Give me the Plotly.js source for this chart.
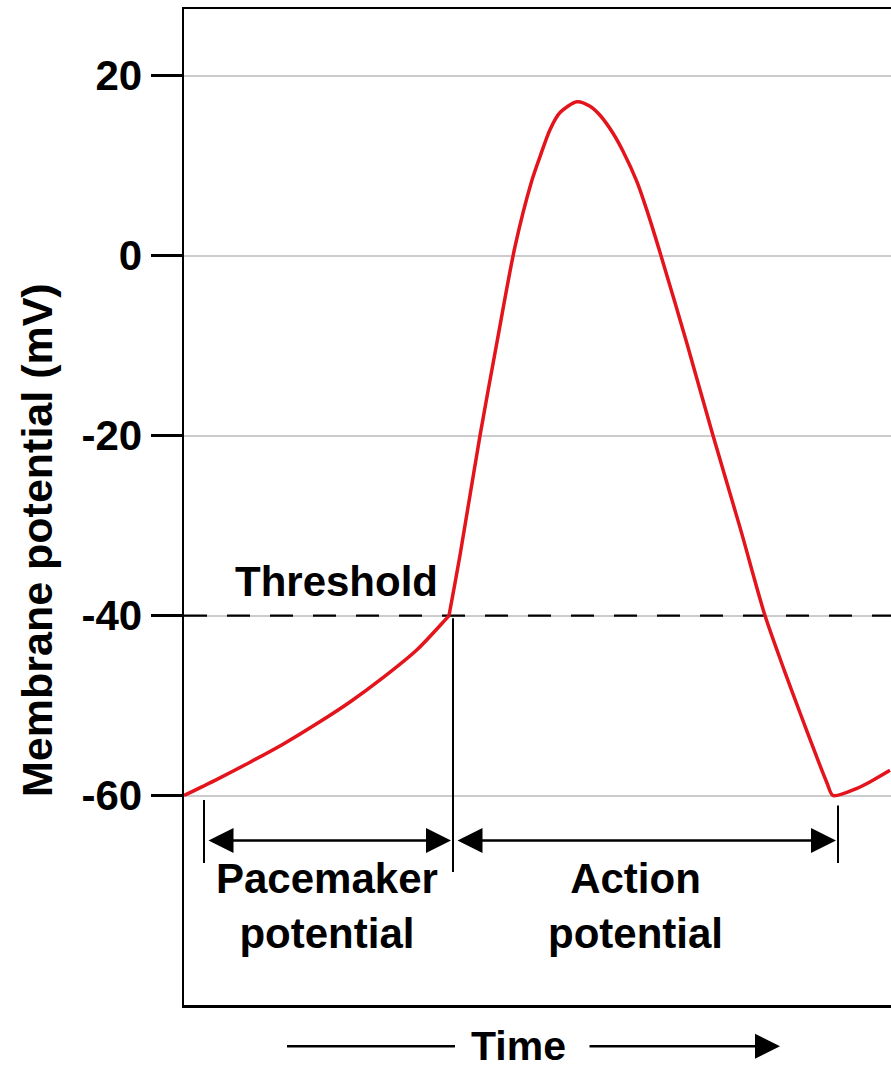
<!DOCTYPE html>
<html>
<head>
<meta charset="utf-8">
<script src="https://cdn.plot.ly/plotly-3.0.1.min.js"></script>
<style>html,body{margin:0;padding:0;background:#fff;}#chart{width:891px;height:1071px;}</style>
</head>
<body>
<div id="chart"></div>
<script>
// Time (arbitrary units, ms-like) and membrane potential (mV)
var timeValues = [0, 33, 66, 99, 133, 166, 199, 233, 261, 265,
  276, 296, 313, 331, 348, 356, 366, 376, 393, 406, 416, 429, 439, 453, 463, 477,
  503, 529, 556, 581, 600, 616, 633, 643, 649, 673, 689, 706];
var potentialValues = [-60, -58.2, -56.3, -54.3, -52.0, -49.6, -46.9, -43.8, -40.5, -40,
  -33.3, -20, -9.6, 1.0, 8.4, 11.0, 14.0, 15.9, 17.1, 16.6, 15.6, 13.6, 11.6, 8.2, 5.0, 0,
  -9.8, -20, -30.2, -40, -46.0, -50.8, -55.8, -58.6, -60, -59.2, -58.3, -57.2];
var thresholdIndex = 9; // point where the pacemaker ramp reaches threshold
var thresholdValue = -40;
var yTickValues = [-60, -40, -20, 0, 20];
var yTickLabels = ['-60', '-40', '-20', '0', '20'];
var phaseLabels = ['Pacemaker<br>potential', 'Action<br>potential'];
var phaseBounds = [[20, 269], [269, 654]];

var FONT = 'Liberation Sans, Arial, Helvetica, sans-serif';
var F = {family: FONT, size: 42, color: '#000', weight: 'bold'};
var RED = '#e3141c';

var traces = [
  {x: [0, 707], y: [thresholdValue, thresholdValue], mode: 'lines', type: 'scatter',
   line: {color: '#000', width: 2.2, dash: '23px,20px'}, hoverinfo: 'skip', showlegend: false},
  {x: timeValues.slice(0, thresholdIndex + 1), y: potentialValues.slice(0, thresholdIndex + 1),
   mode: 'lines', type: 'scatter', line: {color: RED, width: 3.5, shape: 'spline', smoothing: 0.8}, showlegend: false},
  {x: timeValues.slice(thresholdIndex), y: potentialValues.slice(thresholdIndex),
   mode: 'lines', type: 'scatter', line: {color: RED, width: 3.5, shape: 'spline', smoothing: 0.8}, showlegend: false}
];

var armY = -65;
var timeRowY = -0.0415;
var shapes = [
  {type: 'line', xref: 'x', yref: 'y', x0: phaseBounds[0][0], x1: phaseBounds[0][0], y0: -60.5, y1: -67.5, line: {color: '#000', width: 2}},
  {type: 'line', xref: 'x', yref: 'y', x0: phaseBounds[0][1], x1: phaseBounds[0][1], y0: -40.3, y1: -68.5, line: {color: '#000', width: 2}},
  {type: 'line', xref: 'x', yref: 'y', x0: phaseBounds[1][1], x1: phaseBounds[1][1], y0: -61.1, y1: -67.5, line: {color: '#000', width: 2}},
  {type: 'line', xref: 'paper', yref: 'paper', x0: 0.1457, x1: 0.3833, y0: timeRowY, y1: timeRowY, line: {color: '#000', width: 2.5}}
];

var annotations = [
  {xref: 'x', yref: 'y', x: phaseBounds[0][1] - 2, y: armY, axref: 'x', ayref: 'y', ax: phaseBounds[0][0] + 3, ay: armY,
   text: '', showarrow: true, arrowhead: 2, startarrowhead: 2, arrowside: 'end+start', arrowsize: 2, startarrowsize: 2, arrowwidth: 2.5, arrowcolor: '#000'},
  {xref: 'x', yref: 'y', x: phaseBounds[1][1] - 2, y: armY, axref: 'x', ayref: 'y', ax: phaseBounds[1][0] + 3, ay: armY,
   text: '', showarrow: true, arrowhead: 2, startarrowhead: 2, arrowside: 'end+start', arrowsize: 2, startarrowsize: 2, arrowwidth: 2.5, arrowcolor: '#000'},
  {xref: 'x', yref: 'y', x: 152, y: -36.2, text: 'Threshold', showarrow: false, font: F, xanchor: 'center', yanchor: 'middle'},
  {xref: 'x', yref: 'y', x: 142.5, y: -72.3, text: phaseLabels[0], showarrow: false, font: F, xanchor: 'center', yanchor: 'middle', borderpad: 0},
  {xref: 'x', yref: 'y', x: 451, y: -72.3, text: phaseLabels[1], showarrow: false, font: F, xanchor: 'center', yanchor: 'middle', borderpad: 0},
  {xref: 'paper', yref: 'paper', x: 0.4738, y: -0.0412, text: 'Time', showarrow: false,
   font: {family: FONT, size: 41, color: '#000', weight: 'bold'}, xanchor: 'center', yanchor: 'middle', borderpad: 0},
  {xref: 'paper', yref: 'paper', x: 0.843, y: timeRowY, axref: 'pixel', ayref: 'pixel', ax: -192, ay: 0,
   text: '', showarrow: true, arrowhead: 2, arrowsize: 2, arrowwidth: 2.5, arrowcolor: '#000'},
  {xref: 'paper', yref: 'paper', x: -0.2079, y: 0.4669, text: 'Membrane potential (mV)', textangle: -90, showarrow: false,
   font: {family: FONT, size: 43, color: '#000', weight: 'bold'}, xanchor: 'center', yanchor: 'middle'}
];

var layout = {
  width: 891, height: 1071,
  margin: {l: 184, r: 0, t: 9, b: 66, pad: 0},
  paper_bgcolor: '#fff', plot_bgcolor: '#fff',
  showlegend: false,
  xaxis: {range: [0, 707], showline: true, mirror: true, linecolor: '#000', linewidth: 2.5,
          showgrid: false, zeroline: false, showticklabels: false, ticks: '', fixedrange: true},
  yaxis: {range: [-83.28, 27.41], showline: true, mirror: false, linecolor: '#000', linewidth: 2.5,
          tickvals: yTickValues, ticktext: yTickLabels, ticks: 'outside', ticklen: 31, tickwidth: 2.5, tickcolor: '#000',
          tickfont: F, showgrid: true, gridcolor: '#cccccc', gridwidth: 2, zeroline: false, fixedrange: true},
  shapes: shapes,
  annotations: annotations
};

Plotly.newPlot('chart', traces, layout, {displayModeBar: false, staticPlot: true});
</script>
</body>
</html>
